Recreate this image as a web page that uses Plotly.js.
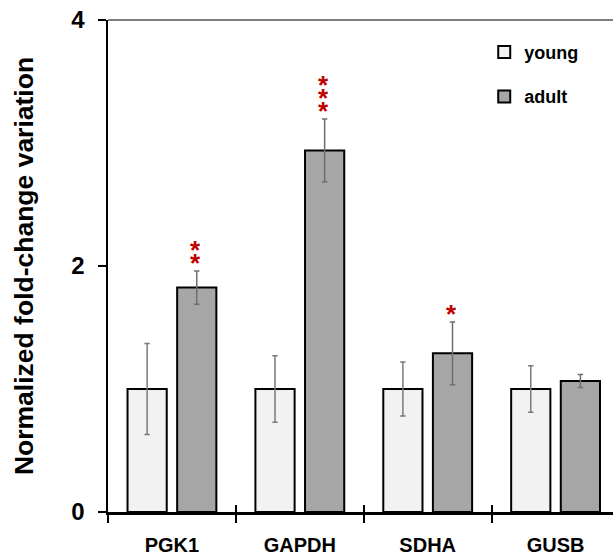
<!DOCTYPE html>
<html>
<head>
<meta charset="utf-8">
<script src="https://cdn.plot.ly/plotly-3.0.1.min.js"></script>
<style>html,body{margin:0;padding:0;background:#fff;}</style>
</head>
<body>
<div id="chart" style="width:613px;height:555px;"></div>
<script>
const categories = ['PGK1', 'GAPDH', 'SDHA', 'GUSB'];
const youngValues = [1.0, 1.0, 1.0, 1.0];
const youngErrors = [0.37, 0.27, 0.22, 0.19];
const adultValues = [1.825, 2.94, 1.29, 1.065];
const adultErrors = [0.135, 0.255, 0.255, 0.053];
const significance = ['**', '***', '*', ''];
const yTicks = [0, 2, 4];

const font = 'Liberation Sans, Arial, sans-serif';

const young = {
  type: 'bar', name: 'young', x: categories, y: youngValues,
  legendgroup: 'a',
  marker: {color: '#f2f2f2', line: {color: '#000', width: 2}},
  error_y: {type: 'data', array: youngErrors, visible: true, color: '#7a7a7a', thickness: 1.5, width: 2.7}
};
const adult = {
  type: 'bar', name: 'adult', x: categories, y: adultValues,
  legendgroup: 'b',
  marker: {color: '#a6a6a6', line: {color: '#000', width: 2}},
  error_y: {type: 'data', array: adultErrors, visible: true, color: '#6e6e6e', thickness: 1.5, width: 2.7}
};

const annotations = [];
categories.forEach((c, i) => {
  const stars = significance[i].length;
  for (let k = 0; k < stars; k++) {
    annotations.push({
      x: c, y: adultValues[i] + adultErrors[i], xref: 'x', yref: 'y',
      text: '*', showarrow: false, xshift: 24, yshift: 8 + 13 * k,
      yanchor: 'middle', font: {family: font, size: 26, color: '#c00000', weight: 'bold'}
    });
  }
});

const layout = {
  width: 613, height: 555,
  margin: {l: 107.5, r: 0, t: 20, b: 43},
  paper_bgcolor: '#fff', plot_bgcolor: '#fff',
  barmode: 'group', bargap: 0.224, bargroupgap: 0.21,
  showlegend: true,
  legend: {x: 0.745, y: 0.972, xanchor: 'left', yanchor: 'top',
    font: {family: font, size: 18, color: '#000', weight: 'bold'},
    tracegroupgap: 18, itemwidth: 30, bgcolor: 'rgba(0,0,0,0)'},
  xaxis: {
    type: 'category', range: [-0.5, 3.449], showgrid: false, zeroline: false,
    showline: true, linecolor: '#000', linewidth: 2.5,
    ticks: 'outside', tickson: 'boundaries', ticklen: 8, tickwidth: 2, tickcolor: '#000',
    ticklabelstandoff: 13,
    tickfont: {family: font, size: 20, color: '#000', weight: 'bold'}
  },
  xaxis2: {
    overlaying: 'x', anchor: 'y', side: 'bottom', range: [-0.5, 3.449],
    tickvals: [-0.5, 0.5, 1.5, 2.5], ticks: 'inside', ticklen: 7, tickwidth: 2, tickcolor: '#000',
    showticklabels: false, showgrid: false, zeroline: false, showline: false
  },
  yaxis: {
    range: [0, 4], tickvals: yTicks, ticktext: yTicks.map(String),
    showgrid: false, zeroline: false, showline: true, linecolor: '#000', linewidth: 2.5,
    ticks: 'outside', ticklen: 8, tickwidth: 2, tickcolor: '#000',
    ticklabelstandoff: 8,
    tickfont: {family: font, size: 24, color: '#000', weight: 'bold'},
    title: {text: 'Normalized fold-change variation', standoff: 30,
      font: {family: font, size: 26.5, color: '#000', weight: 'bold'}}
  },
  shapes: [{type: 'line', xref: 'paper', yref: 'paper', x0: 0, x1: 1, y0: 1, y1: 1,
    line: {color: '#555', width: 1.5}}],
  annotations: annotations
};

const dummy = {type: 'scatter', x: [0], y: [0], xaxis: 'x2', yaxis: 'y', mode: 'markers',
  marker: {opacity: 0}, showlegend: false, hoverinfo: 'skip'};

Plotly.newPlot('chart', [young, adult, dummy], layout, {displayModeBar: false, staticPlot: true});
</script>
</body>
</html>
